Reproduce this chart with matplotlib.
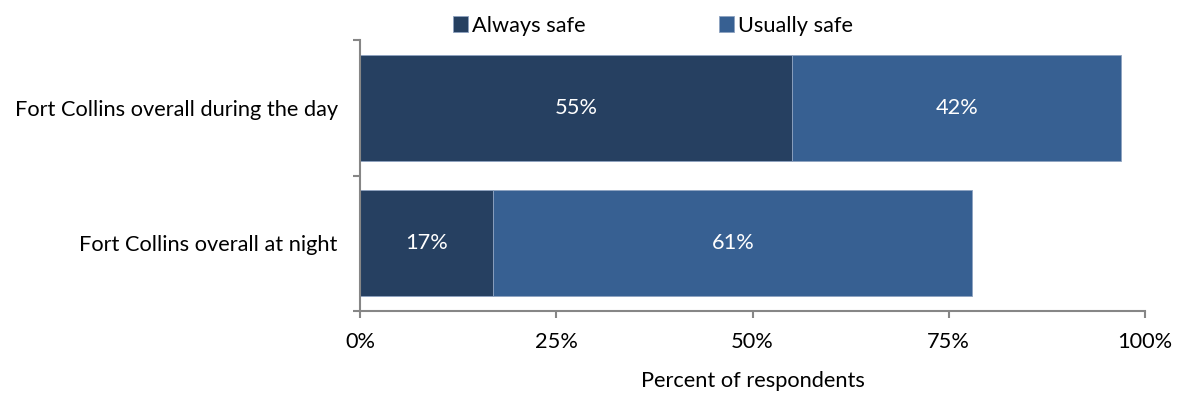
import numpy as np
import matplotlib.pyplot as plt

plt.rcParams['font.family'] = ['Lato', 'DejaVu Sans']

categories = ['Fort Collins overall during the day', 'Fort Collins overall at night']
always_safe = [55, 17]
usually_safe = [42, 61]
series_names = ['Always safe', 'Usually safe']
colors = ['#264061', '#376092']

fs = 15.7

fig = plt.figure(figsize=(11.78, 3.93), dpi=100)
ax = fig.add_axes([0.3056, 0.2087, 0.972 - 0.3056, 0.898 - 0.2087])

y = np.arange(len(categories))
h = 0.78
b1 = ax.barh(y, always_safe, height=h, color=colors[0], edgecolor='#8ea2c0', linewidth=0.6,
             label=series_names[0])
b2 = ax.barh(y, usually_safe, left=always_safe, height=h, color=colors[1], edgecolor='#8ea2c0',
             linewidth=0.6, label=series_names[1])

for bars, vals, lefts in [(b1, always_safe, [0, 0]), (b2, usually_safe, always_safe)]:
    for yi, v, l in zip(y, vals, lefts):
        ax.text(l + v / 2, yi, '{}%'.format(v), ha='center', va='center', color='white', fontsize=fs)

ax.set_xlim(0, 100)
ax.set_ylim(1.5, -0.5)
ax.set_xticks([0, 25, 50, 75, 100])
ax.set_xticklabels(['0%', '25%', '50%', '75%', '100%'], fontsize=fs)
ax.set_yticks(y)
ax.set_yticklabels(categories, fontsize=fs)
ax.tick_params(axis='y', which='major', length=0, pad=16)
ax.set_yticks([-0.5, 0.5, 1.5], minor=True)
ax.tick_params(axis='y', which='minor', length=5, color='#868686', width=1.5)
ax.tick_params(axis='x', length=5, color='#868686', width=1.5, pad=10)
ax.set_xlabel('Percent of respondents', fontsize=fs, labelpad=14)

for s in ['top', 'right']:
    ax.spines[s].set_visible(False)
for s in ['left', 'bottom']:
    ax.spines[s].set_color('#868686')
    ax.spines[s].set_linewidth(1.5)

leg = fig.legend(handles=[b1, b2], loc='center', bbox_to_anchor=(0.5543, 0.935), ncol=2,
                 frameon=False, fontsize=fs, handlelength=0.7, handleheight=0.7,
                 handletextpad=0.2, columnspacing=6.1)

fig.savefig('out.png', dpi=100)
